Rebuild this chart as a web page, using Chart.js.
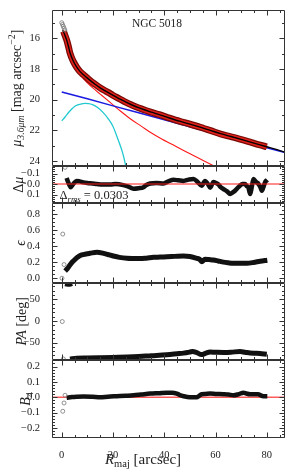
<!DOCTYPE html>
<html>
<head>
<meta charset="utf-8">
<script src="https://cdn.jsdelivr.net/npm/chart.js@4.4.0/dist/chart.umd.min.js"></script>
<style>
html, body { margin: 0; padding: 0; background: #fff; }
</style>
</head>
<body>
<canvas id="profileChart" width="293" height="471"></canvas>
<script>
// ---- surface brightness profile, NGC 5018 ----
var coreRad = [0.0, 0.3, 0.6, 0.9, 1.2];
var coreMu = [14.98, 15.1, 15.22, 15.34, 15.46];

var muRad = [0.7, 1.3, 1.9, 2.6, 3.2, 4.5, 5.8, 7, 8.5, 10, 11, 13, 15, 17, 19, 21, 23, 25, 27, 29,
             31, 33, 35, 38, 42, 46, 50, 54, 58, 62, 66, 70, 74, 77, 80];
var muObs = [15.55, 15.82, 16.09, 16.52, 16.95, 17.5, 17.88, 18.15, 18.38, 18.6, 18.75, 19.0, 19.23, 19.43, 19.62, 19.82, 19.99, 20.17, 20.33, 20.47,
             20.6, 20.72, 20.83, 20.98, 21.2, 21.41, 21.6, 21.8, 22.02, 22.25, 22.42, 22.6, 22.8, 22.95, 23.08];

var modelRad = [0.4, 1.3, 1.9, 2.6, 3.2, 4.5, 5.8, 7, 8.5, 10, 13, 15, 19, 23, 27, 31, 35, 38, 42, 46, 50, 54, 58, 62, 66, 70, 74, 80, 84, 87.1];
var modelMu = [15.45, 15.83, 16.1, 16.52, 16.93, 17.48, 17.87, 18.14, 18.38, 18.6, 19.0, 19.23, 19.62, 19.99, 20.32, 20.59, 20.82, 20.98, 21.2, 21.41, 21.6, 21.8, 22.01, 22.22, 22.41, 22.6, 22.79, 23.08, 23.27, 23.43];

var bulgeRad = [0.4, 1, 2, 3, 4, 5, 6, 8, 10, 12, 15, 19, 23, 27, 31, 35, 39, 43, 47, 51, 55, 59, 59.5];
var bulgeMu = [15.46, 15.75, 16.18, 16.98, 17.38, 17.75, 18.05, 18.55, 18.9, 19.22, 19.64, 20.2, 20.76, 21.28, 21.73, 22.18, 22.57, 22.92, 23.28, 23.62, 23.96, 24.3, 24.35];

var diskRad = [0, 10, 20, 30, 40, 50, 60, 70, 80, 87.1];
var diskMu = [19.5, 19.95, 20.41, 20.86, 21.32, 21.77, 22.23, 22.69, 23.14, 23.46];

var ringRad = [0, 1, 2, 3, 4, 5, 6, 7.5, 9, 10.5, 12, 14, 16, 18, 20, 22, 24, 25];
var ringMu = [21.38, 21.2, 20.98, 20.78, 20.6, 20.45, 20.36, 20.29, 20.25, 20.26, 20.33, 20.52, 20.82, 21.22, 21.75, 22.62, 23.62, 24.35];

// ---- residuals ----
var dmuCoreRad = [1.3];
var dmuCore = [-0.159];
var dmuRad = [1.9, 2.3, 2.8, 3.5, 4.5, 5.8, 7, 8.4, 10, 12, 13.7, 16, 19, 21, 24, 26, 28, 30, 31.9, 33, 34.5, 37, 39.7, 42, 43.6, 45.5,
              47.5, 49.5, 51.4, 53, 54.6, 55.9, 57, 57.9, 59.2, 60.2, 61.2, 62, 63.1, 64.5, 65.7, 66.7, 67.6, 68.5, 69.5, 70.5,
              71.5, 72.2, 72.8, 73.5, 74.2, 74.8, 75.8, 76.8, 77.5, 78.1, 78.8, 79.4, 80.2];
var dmuVal = [-0.057, -0.03, 0.0, 0.03, 0.0, -0.03, -0.025, -0.016, -0.01, -0.005, 0.0, 0.005, 0.005, 0.0, 0.01, 0.025, 0.045, 0.04, 0.03, 0.01, -0.005, -0.01, -0.006, -0.03, -0.04, -0.035,
              -0.03, -0.042, -0.048, -0.02, 0.016, -0.03, 0.0, 0.035, -0.02, -0.01, 0.005, 0.03, 0.048, 0.07, 0.095, 0.08, 0.064, 0.04, 0.016, 0.0,
              0.0, 0.02, 0.032, 0.095, 0.02, -0.048, -0.02, 0.0, 0.03, 0.064, 0.02, -0.02, -0.04];

// ---- ellipticity ----
var epsCoreRad = [0.1, 0.4, 0.9];
var epsCore = [0.0, 0.55, 0.17];
var epsRad = [1.3, 2.2, 3.2, 4.2, 5.2, 6.5, 7.8, 9.5, 11, 13.7, 16.3, 18, 20.1, 22.5, 25.4, 28, 30.6, 33, 35.8, 38.5, 41, 44, 47.5, 50,
              52.7, 53.8, 54.6, 55.9, 57.5, 59.2, 61, 63.1, 65, 67, 69.5, 72.2, 74.8, 77.4, 80.2];
var epsVal = [0.09, 0.12, 0.165, 0.205, 0.236, 0.268, 0.29, 0.302, 0.31, 0.323, 0.31, 0.295, 0.277, 0.26, 0.248, 0.245, 0.244, 0.25, 0.26, 0.263, 0.268, 0.272, 0.277, 0.27,
              0.248, 0.235, 0.206, 0.236, 0.232, 0.227, 0.215, 0.2, 0.192, 0.186, 0.185, 0.186, 0.196, 0.211, 0.224];

// ---- position angle ----
var paCoreRad = [0.2, 0.6];
var paCore = [-1.5, -88];
var paWrapRad = [1.3, 2, 2.7, 3.4, 4];
var paWrap = [86, 85, 84.5, 85, 86.5];
var paRad = [3.2, 5.9, 10, 15, 20, 28, 35, 41, 45, 47.5, 50, 51.1, 52.5, 54.6, 56, 57.9, 60, 63.1, 66, 69.6, 71.5, 73.5, 76, 78, 80];
var paVal = [-88.3, -86.5, -86, -85.3, -84.5, -83, -80.5, -78.3, -76, -74.5, -72, -70.7, -73, -78, -75, -72, -72.5, -73, -72.5, -70.7, -72.5, -74.5, -75, -76, -77];

// ---- B4 ----
var b4CoreRad = [0.4, 0.9, 1.3];
var b4Core = [-0.091, -0.037, 0.013];
var b4Rad = [1.9, 4, 6, 8.5, 12, 15, 18, 21.5, 25, 28, 31, 34.5, 38, 41, 43, 44.9, 46, 47.5, 50, 52.7, 53.5, 54.6, 56, 57.9,
             60, 63.1, 65, 67, 69, 70.9, 72, 73.5, 75, 76.5, 78.7, 80.2];
var b4Val = [-0.003, 0.002, 0.004, 0.005, 0.003, 0.0, 0.004, 0.007, 0.01, 0.013, 0.018, 0.024, 0.027, 0.03, 0.03, 0.024, 0.015, 0.007, 0.0, 0.0, 0.008, 0.02, 0.022, 0.024,
             0.022, 0.02, 0.018, 0.013, 0.02, 0.03, 0.025, 0.02, 0.02, 0.02, 0.007, 0.007];

// tick labels
var xTicks = [0, 20, 40, 60, 80];
var muTicks = [16, 18, 20, 22, 24];
var dmuTicks = [-0.1, 0.0, 0.1];
var epsTicks = [0.0, 0.2, 0.4, 0.6, 0.8];
var paTicks = [-50, 0, 50];
var b4Ticks = [-0.2, -0.1, 0.0, 0.1, 0.2];

var serif = '"Liberation Serif", "DejaVu Serif", serif';
var ink = '#222';

function pts(xs, ys) {
	return xs.map(function(x, i) { return {x: x, y: ys[i]}; });
}

function oneDecimal(v) { return Number(v).toFixed(1).replace('-', '\u2212'); }
function whole(v) { return String(Math.round(v)).replace('-', '\u2212'); }

function panelAxis(min, max, ticks, weight, fmt, reverse) {
	return {
		type: 'linear', position: 'left', stack: 'panels', stackWeight: weight,
		min: min, max: max, reverse: !!reverse,
		grid: { display: false }, border: { display: false },
		afterBuildTicks: function(s) { s.ticks = ticks.map(function(v) { return {value: v}; }); },
		afterFit: function(s) { s.width = 52; },
		ticks: { autoSkip: false, color: ink, padding: 4, font: { family: serif, size: 10.5 }, callback: fmt }
	};
}

function line(data, yAxis, color, width, order, extra) {
	var ds = { data: data, yAxisID: yAxis, showLine: true, borderColor: color, borderWidth: width,
		pointRadius: 0, cubicInterpolationMode: 'monotone', order: order };
	for (var k in extra) ds[k] = extra[k];
	return ds;
}

function rings(data, yAxis) {
	return { data: data, yAxisID: yAxis, showLine: false, pointRadius: 2, pointBorderWidth: 0.8,
		pointBorderColor: '#777', pointBackgroundColor: 'rgba(255,255,255,0)', order: 0 };
}

// panels, top to bottom, with minor tick steps
var panels = [
	{ id: 'yMu', minor: 1, major: muTicks },
	{ id: 'yDmu', minor: 0.02, major: dmuTicks },
	{ id: 'yEps', minor: 0.05, major: epsTicks },
	{ id: 'yPa', minor: 10, major: paTicks },
	{ id: 'yB4', minor: 0.02, major: b4Ticks }
];

function drawRich(ctx, parts, x, y, rotate, size) {
	ctx.save();
	ctx.translate(x, y);
	if (rotate) ctx.rotate(-Math.PI / 2);
	function font(p) {
		return (p.it ? 'italic ' : '') + ((p.sub || p.sup) ? size * 0.7 : size) + 'px ' + serif;
	}
	var w = 0;
	parts.forEach(function(p) { ctx.font = font(p); p.w = ctx.measureText(p.t).width; w += p.w; });
	var cx = -w / 2;
	ctx.textAlign = 'left';
	ctx.textBaseline = 'alphabetic';
	ctx.fillStyle = ink;
	var base = size * 0.33;
	parts.forEach(function(p) {
		ctx.font = font(p);
		var dy = p.sub ? size * 0.22 : (p.sup ? -size * 0.4 : 0);
		ctx.fillText(p.t, cx, base + dy);
		cx += p.w;
	});
	ctx.restore();
}

var panelDecor = {
	id: 'panelDecor',
	afterDatasetsDraw: function(chart) {
		var ctx = chart.ctx, xs = chart.scales.x;
		ctx.save();
		ctx.strokeStyle = '#333';
		ctx.lineWidth = 1;
		panels.forEach(function(p) {
			var ys = chart.scales[p.id];
			var l = Math.round(xs.left) + 0.5, r = Math.round(xs.right) - 0.5;
			var t = Math.round(ys.top) + 0.5, b = Math.round(ys.bottom) - 0.5;
			ctx.beginPath();
			ctx.rect(l, t, r - l, b - t);
			// x ticks on top and bottom edges
			for (var v = 0; v <= xs.max; v += 5) {
				var px = Math.round(xs.getPixelForValue(v)) + 0.5;
				var len = xTicks.indexOf(v) >= 0 ? 5 : 2.5;
				ctx.moveTo(px, t); ctx.lineTo(px, t + len);
				ctx.moveTo(px, b); ctx.lineTo(px, b - len);
			}
			// y ticks on left and right edges
			var lo = Math.min(ys.min, ys.max), hi = Math.max(ys.min, ys.max);
			var start = Math.ceil(lo / p.minor - 1e-6);
			for (var k = start; k * p.minor <= hi + 1e-9; k++) {
				var val = k * p.minor;
				var major = p.major.some(function(m) { return Math.abs(m - val) < p.minor / 10; });
				var py = Math.round(ys.getPixelForValue(val)) + 0.5;
				var ln = major ? 5 : 2.5;
				ctx.moveTo(l, py); ctx.lineTo(l + ln, py);
				ctx.moveTo(r, py); ctx.lineTo(r - ln, py);
			}
			ctx.stroke();
		});
		ctx.restore();

		var mid = function(id) { var s = chart.scales[id]; return (s.top + s.bottom) / 2; };
		drawRich(ctx, [{t: '\u03bc', it: true}, {t: '3.6\u03bcm', it: true, sub: true}, {t: ' [mag arcsec'}, {t: '\u22122', sup: true}, {t: ']'}], 16, mid('yMu'), true, 14);
		drawRich(ctx, [{t: '\u0394'}, {t: '\u03bc', it: true}], 18, mid('yDmu'), true, 14);
		drawRich(ctx, [{t: '\u03f5', it: true}], 20, mid('yEps'), true, 14);
		drawRich(ctx, [{t: 'PA', it: true}, {t: ' [deg]'}], 21, mid('yPa'), true, 14);
		drawRich(ctx, [{t: 'B', it: true}, {t: '4', sub: true}], 25, mid('yB4'), true, 14);
		drawRich(ctx, [{t: 'R', it: true}, {t: 'maj', sub: true}, {t: ' [arcsec]'}], 143, 459, false, 15);
		drawRich(ctx, [{t: 'NGC 5018'}], 157, 23, false, 11.5);
		drawRich(ctx, [{t: '\u0394'}, {t: 'rms', it: true, sub: true}, {t: ' = 0.0303'}], 94, 195, false, 12.5);
	}
};

new Chart(document.getElementById('profileChart').getContext('2d'), {
	type: 'scatter',
	data: {
		datasets: [
			// surface brightness
			line(pts(modelRad, modelMu), 'yMu', '#000', 1.4, 1),
			line(pts(muRad, muObs), 'yMu', '#e0201a', 4.4, 2),
			line(pts(muRad, muObs), 'yMu', '#7a0a06', 6.8, 3),
			line(pts(diskRad, diskMu), 'yMu', '#1a1ae0', 1.5, 4, {cubicInterpolationMode: 'default', tension: 0}),
			line(pts(bulgeRad, bulgeMu), 'yMu', '#ff1a1a', 1.1, 5),
			line(pts(ringRad, ringMu), 'yMu', '#20c8d0', 1.3, 5),
			rings(pts(coreRad, coreMu), 'yMu'),
			// residuals
			line(pts(dmuRad, dmuVal), 'yDmu', '#111', 4.5, 2),
			line(pts([-3.8, 87.1], [0, 0]), 'yDmu', '#ff1a1a', 1.2, 1),
			rings(pts(dmuCoreRad, dmuCore), 'yDmu'),
			// ellipticity
			line(pts(epsRad, epsVal), 'yEps', '#111', 5, 2),
			rings(pts(epsCoreRad, epsCore), 'yEps'),
			// position angle
			line(pts(paRad, paVal), 'yPa', '#111', 5, 2),
			line(pts(paWrapRad, paWrap), 'yPa', '#111', 5, 2),
			rings(pts(paCoreRad, paCore), 'yPa'),
			// B4
			line(pts(b4Rad, b4Val), 'yB4', '#111', 4.5, 2),
			line(pts([-3.8, 87.1], [0, 0]), 'yB4', '#ff5a5a', 1.6, 3),
			rings(pts(b4CoreRad, b4Core), 'yB4')
		]
	},
	options: {
		responsive: false,
		animation: false,
		devicePixelRatio: 1,
		layout: { padding: { top: 10, right: 8, left: 0, bottom: 0 } },
		plugins: { legend: { display: false }, tooltip: { enabled: false } },
		scales: {
			x: {
				type: 'linear', position: 'bottom', min: -3.8, max: 87.1,
				grid: { display: false }, border: { display: false },
				afterBuildTicks: function(s) { s.ticks = xTicks.map(function(v) { return {value: v}; }); },
				afterFit: function(s) { s.height = 33; },
				ticks: { autoSkip: false, maxRotation: 0, color: ink, padding: 3, font: { family: serif, size: 10.5 }, callback: whole }
			},
			// declared bottom panel first
			yB4: panelAxis(-0.265, 0.244, b4Ticks, 78.3, oneDecimal),
			yPa: panelAxis(-90, 88.5, paTicks, 77.3, whole),
			yEps: panelAxis(-0.055, 0.933, epsTicks, 79.4, oneDecimal),
			yDmu: panelAxis(-0.171, 0.184, dmuTicks, 37.3, oneDecimal, true),
			yMu: panelAxis(14.17, 24.34, muTicks, 156, whole, true)
		}
	},
	plugins: [panelDecor]
});
</script>
</body>
</html>
